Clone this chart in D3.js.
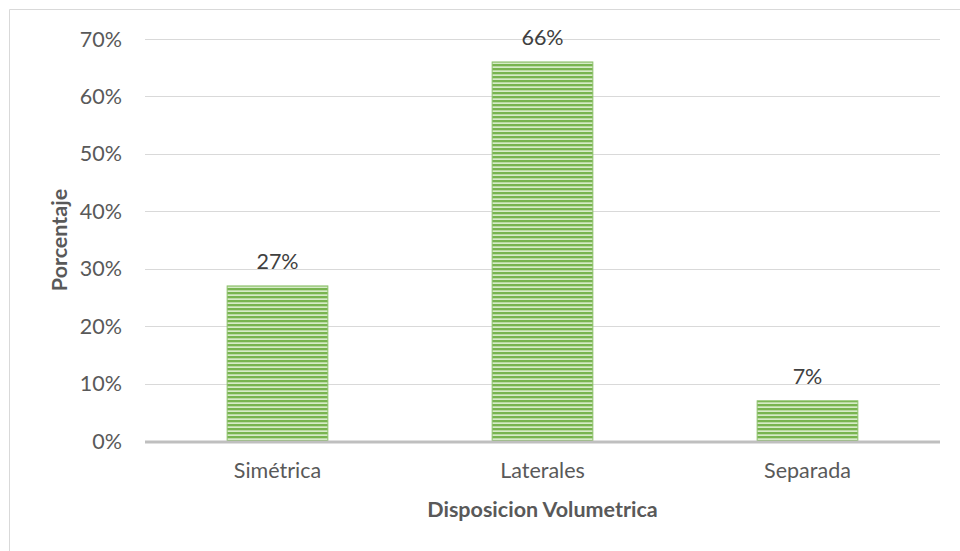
<!DOCTYPE html>
<html>
<head>
<meta charset="utf-8">
<script src="https://cdn.jsdelivr.net/npm/d3@7"></script>
<style>
  body { margin: 0; background: #fff; }
  svg { display: block; font-family: Lato, "Open Sans", sans-serif; }
</style>
</head>
<body>
<div id="chart"></div>
<script>
// data
var categories = ["Simétrica", "Laterales", "Separada"];
var values = [0.27, 0.66, 0.07];
var labels = ["27%", "66%", "7%"];
var yTicks = [0, 0.1, 0.2, 0.3, 0.4, 0.5, 0.6, 0.7];

var width = 960, height = 551;
var margin = {left: 145, right: 20, top: 39, bottom: 110};
var fs = 21.5;

var svg = d3.select("#chart").append("svg")
    .attr("width", width)
    .attr("height", height);

// outer frame (only top and left edges show)
svg.append("path")
    .attr("d", "M9.5," + height + "V9.5H" + width)
    .attr("fill", "none")
    .attr("stroke", "#d9d9d9");

var defs = svg.append("defs");
var pat = defs.append("pattern")
    .attr("id", "stripes")
    .attr("patternUnits", "userSpaceOnUse")
    .attr("width", 8)
    .attr("height", 4);
pat.append("rect").attr("width", 8).attr("height", 4).attr("fill", "#d6ebc8");
pat.append("rect").attr("y", 0).attr("width", 8).attr("height", 2).attr("fill", "#78b450");
pat.append("rect").attr("y", 2).attr("width", 8).attr("height", 0.6).attr("fill", "#a7d08a");

var x = d3.scaleBand()
    .domain(categories)
    .range([margin.left, width - margin.right])
    .padding(0);

var y = d3.scaleLinear()
    .domain([0, 0.7])
    .range([height - margin.bottom, margin.top]);

// gridlines
svg.append("g").selectAll("line")
    .data(yTicks.slice(1))
    .enter().append("line")
    .attr("x1", margin.left)
    .attr("x2", width - margin.right)
    .attr("y1", function (d) { return Math.round(y(d)) + 0.5; })
    .attr("y2", function (d) { return Math.round(y(d)) + 0.5; })
    .attr("stroke", "#d9d9d9")
    .attr("stroke-width", 1);

// y tick labels
svg.append("g").selectAll("text")
    .data(yTicks)
    .enter().append("text")
    .attr("x", margin.left - 23)
    .attr("y", function (d) { return y(d); })
    .attr("dy", "0.35em")
    .attr("text-anchor", "end")
    .attr("font-size", fs)
    .attr("fill", "#595959")
    .text(d3.format(".0%"));

// bars
var barW = x.bandwidth() * 0.38;
svg.append("g").selectAll("rect")
    .data(values)
    .enter().append("rect")
    .attr("x", function (d, i) { return x(categories[i]) + (x.bandwidth() - barW) / 2; })
    .attr("y", function (d) { return y(d); })
    .attr("width", barW)
    .attr("height", function (d) { return y(0) - y(d); })
    .attr("fill", "url(#stripes)")
    .attr("stroke", "#8cc06a")
    .attr("stroke-width", 1);

// data labels
svg.append("g").selectAll("text")
    .data(values)
    .enter().append("text")
    .attr("x", function (d, i) { return x(categories[i]) + x.bandwidth() / 2; })
    .attr("y", function (d) { return y(d) - 17; })
    .attr("text-anchor", "middle")
    .attr("font-size", fs)
    .attr("fill", "#404040")
    .text(function (d, i) { return labels[i]; });

// x axis line
svg.append("line")
    .attr("x1", margin.left)
    .attr("x2", width - margin.right)
    .attr("y1", y(0) + 1)
    .attr("y2", y(0) + 1)
    .attr("stroke", "#bfbfbf")
    .attr("stroke-width", 3);

// x tick labels
svg.append("g").selectAll("text")
    .data(categories)
    .enter().append("text")
    .attr("x", function (d) { return x(d) + x.bandwidth() / 2; })
    .attr("y", y(0) + 37)
    .attr("text-anchor", "middle")
    .attr("font-size", fs)
    .attr("fill", "#595959")
    .text(function (d) { return d; });

// axis titles
svg.append("text")
    .attr("x", (margin.left + width - margin.right) / 2)
    .attr("y", 517)
    .attr("text-anchor", "middle")
    .attr("font-size", fs)
    .attr("font-weight", "bold")
    .attr("fill", "#595959")
    .text("Disposicion Volumetrica");

svg.append("text")
    .attr("transform", "translate(67," + y(0.35) + ") rotate(-90)")
    .attr("text-anchor", "middle")
    .attr("font-size", fs)
    .attr("font-weight", "bold")
    .attr("fill", "#595959")
    .text("Porcentaje");
</script>
</body>
</html>
